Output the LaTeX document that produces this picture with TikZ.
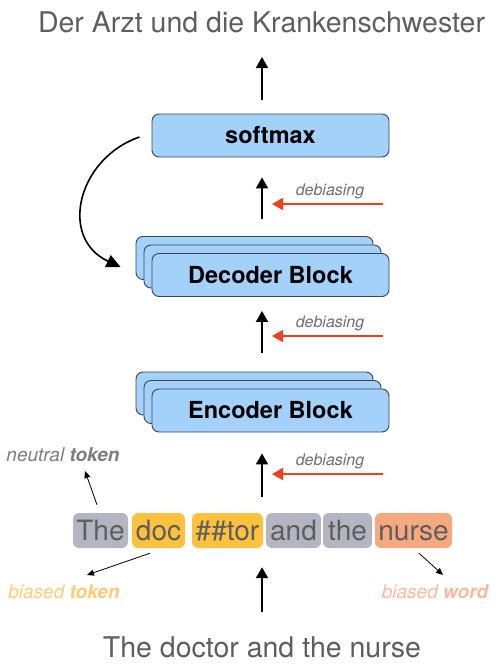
\documentclass[tikz,border=0pt]{standalone}
\usepackage{fontspec}
\setmainfont{TeX Gyre Heros}
\usetikzlibrary{arrows.meta,positioning}

\definecolor{txtgray}{HTML}{5E5E5E}
\definecolor{blockblue}{HTML}{A3D1FA}
\definecolor{blockline}{HTML}{3C4650}
\definecolor{debred}{HTML}{F0401E}
\definecolor{tokgray}{HTML}{B5B5C2}
\definecolor{tokyellow}{HTML}{FCC13D}
\definecolor{toksalmon}{HTML}{F6A87E}
\definecolor{lblyellow}{HTML}{FDCB78}
\definecolor{lblsalmon}{HTML}{F9B9A0}
\definecolor{lblgray}{HTML}{7E7E7E}

\tikzset{
  block/.style={draw=blockline, fill=blockblue, line width=0.9pt, rounded corners=7pt,
    minimum width=237pt, minimum height=43pt, inner sep=0pt,
    font=\fontsize{23.5}{25}\selectfont\bfseries},
  tok/.style={fill=#1, rounded corners=6pt, minimum height=35pt, inner sep=0pt,
    text=txtgray, font=\fontsize{28}{30}\selectfont, text height=20pt, text depth=0pt},
  flow/.style={line width=2pt, -{Triangle[length=11pt,width=12pt]}},
  debias/.style={draw=debred, line width=1.8pt, -{Triangle[length=11pt,width=12pt]}},
  note/.style={line width=0.8pt, -{Triangle[length=7pt,width=6pt]}},
  sent/.style={text=txtgray, font=\fontsize{28.5}{30}\selectfont, anchor=base},
  dlabel/.style={text=txtgray!90, font=\fontsize{16}{18}\selectfont\itshape},
  tlabel/.style={font=\fontsize{19}{21}\selectfont\itshape},
}

\begin{document}
\begin{tikzpicture}[x=1pt,y=-1pt]
\useasboundingbox (0,0) rectangle (499,667);

\node[sent] (title) at (261.5,32) {Der Arzt und die Krankenschwester};
\node[sent] (input) at (262,657) {The doctor and the nurse};

\node[block] (sm) at (270.5,135.5) {softmax};
\foreach \i in {2,1} {
  \node[block] (dec\i) at (270.5-8*\i,275-8.5*\i) {};
}
\node[block] (dec) at (270.5,275) {Decoder Block};
\foreach \i in {2,1} {
  \node[block] (enc\i) at (270.5-8*\i,410.5-8.5*\i) {};
}
\node[block] (enc) at (270.5,410.5) {Encoder Block};

% tokens
\foreach \n/\t/\c/\x/\w in {The/The/tokgray/100.5/55, doc/doc/tokyellow/158.5/53,
    tor/\#\#tor/tokyellow/227.5/71, and/and/tokgray/293.5/55,
    the/the/tokgray/347.5/49, nurse/nurse/toksalmon/413.5/77} {
  \node[tok=\c, minimum width=\w pt] (t\n) at (\x,530.5) {\t};
}

\node[tlabel, text=lblgray] (neutral) at (63,455) {neutral \textbf{token}};
\node[tlabel, text=lblyellow] (btok) at (64,592) {biased \textbf{token}};
\node[tlabel, text=lblsalmon] (bword) at (435,592) {biased \textbf{word}};

\draw[note] ([shift={(-3.5,-8)}]tThe.north) -- ([shift={(22,16)}]neutral.center);
\draw[note] ([shift={(-8.5,5)}]tdoc.south) -- ([shift={(23,-17)}]btok.center);
\draw[note] ([shift={(5.5,5)}]tnurse.south) -- ([shift={(8,-17)}]bword.center);

% main flow
\draw[flow] ([shift={(0,-45)}]input.base) -- ([shift={(34.5,19)}]ttor.south);
\draw[flow] ([shift={(34.5,-16)}]ttor.north) -- ([shift={(-8.5,21)}]enc.south);
\draw[flow] ([shift={(7.5,-19)}]enc2.north) -- ([shift={(-8.5,14)}]dec.south);
\draw[flow] ([shift={(7.5,-17)}]dec2.north) -- ([shift={(-8.5,20)}]sm.south);
\draw[flow] ([shift={(-8.5,-14)}]sm.north) -- ([shift={(0.5,25)}]title.base);

% debiasing
\foreach \y/\k in {204/1, 336/2, 474/3} {
  \coordinate (d\k s) at (383,\y);
  \coordinate (d\k e) at (272,\y);
  \node[dlabel] (dl\k) at (330,\y-13) {debiasing};
  \draw[debias] (d\k s) -- (d\k e);
}

% feedback
\draw[line width=1.6pt, -{Triangle[length=14pt,width=13pt]}]
  ([shift={(-12,1.5)}]sm.west) .. controls (78,158) and (58,238) .. ([shift={(-15,9)}]dec2.west);
\end{tikzpicture}
\end{document}
